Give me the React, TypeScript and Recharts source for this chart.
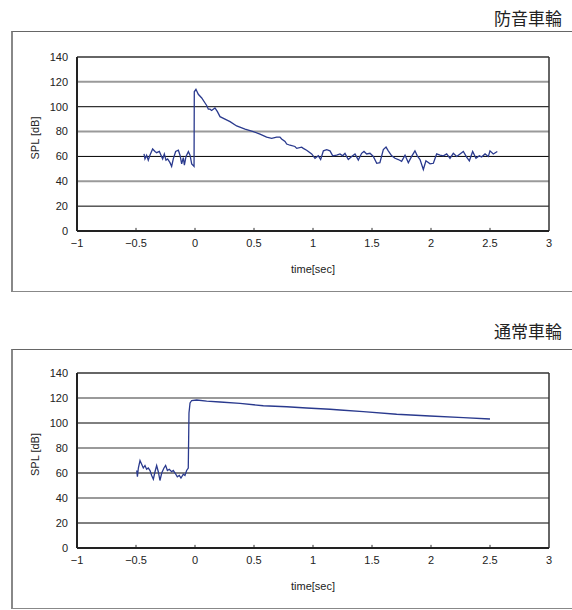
import React from "react";
import { LineChart, Line, XAxis, YAxis, ReferenceLine } from "recharts";

// 防音車輪 (sound-proof wheel)
const timeTop = [
  -0.432, -0.424, -0.41, -0.396, -0.382, -0.359, -0.339, -0.325, -0.302, -0.288,
  -0.274, -0.26, -0.246, -0.232, -0.212, -0.198, -0.184, -0.164, -0.141, -0.127,
  -0.113, -0.099, -0.09, -0.076, -0.056, -0.042, -0.028, -0.008, -0.006, 0.008,
  0.028, 0.057, 0.085, 0.099, 0.113, 0.127, 0.141, 0.169, 0.19, 0.212,
  0.254, 0.297, 0.353, 0.424, 0.494, 0.551, 0.607, 0.65, 0.692, 0.72,
  0.734, 0.763, 0.777, 0.805, 0.847, 0.862, 0.904, 0.918, 0.946, 0.989,
  1.017, 1.045, 1.065, 1.088, 1.116, 1.144, 1.167, 1.201, 1.229, 1.251,
  1.271, 1.299, 1.328, 1.356, 1.384, 1.412, 1.432, 1.455, 1.483, 1.511,
  1.54, 1.567, 1.596, 1.619, 1.638, 1.667, 1.695, 1.723, 1.751, 1.78,
  1.808, 1.836, 1.864, 1.884, 1.907, 1.935, 1.957, 1.992, 2.02, 2.048,
  2.076, 2.105, 2.133, 2.161, 2.189, 2.218, 2.246, 2.274, 2.302, 2.325,
  2.353, 2.381, 2.41, 2.429, 2.458, 2.486, 2.5, 2.528, 2.562,
];
const splTop = [
  62, 58, 61, 57, 61, 66, 64, 63, 64, 61,
  58, 62, 57, 58, 55, 52, 58, 64, 65, 61,
  54, 59, 53, 60, 64, 61, 54, 52, 112, 114,
  110, 107, 103, 101, 98, 98, 97, 99, 96, 92,
  90, 88, 84.5, 82, 80, 78, 75.5, 74.5, 75.5, 75.5,
  74, 72, 70, 69, 68, 66.5, 67.5, 66.5, 65, 62,
  58.5, 60.5, 57.5, 64.5, 65.5, 64.5, 60.5, 61, 62, 60.5,
  62.5, 57.5, 60, 62, 57, 62.5, 64, 62, 62.5, 60,
  54.5, 55, 65.5, 67.5, 64.5, 60.5, 58.5, 57.5, 56, 61,
  55, 60, 64.5, 60.5, 57.5, 49.5, 56.5, 54, 54.5, 62,
  61, 60.5, 62, 58.5, 62.5, 60, 62, 64, 59.5, 56.5,
  64, 58.5, 60.5, 59.5, 62, 60, 64.5, 62, 64,
];

// 通常車輪 (ordinary wheel)
const timeBottom = [
  -0.494, -0.488, -0.48, -0.466, -0.452, -0.438, -0.424, -0.41, -0.396, -0.381,
  -0.367, -0.353, -0.339, -0.325, -0.311, -0.297, -0.282, -0.263, -0.249, -0.234,
  -0.218, -0.198, -0.184, -0.169, -0.15, -0.133, -0.119, -0.099, -0.085, -0.071,
  -0.057, -0.051, -0.042, -0.028, 0.014, 0.099, 0.212, 0.381, 0.579, 0.777,
  0.946, 1.144, 1.229, 1.426, 1.709, 1.991, 2.274, 2.5,
];
const splBottom = [
  62, 57, 64, 70, 67, 64, 66, 63, 64, 62,
  58, 55, 61, 66, 61, 54, 60, 64, 66, 62,
  63, 61, 62, 60, 57, 58, 56, 59, 58, 62,
  64, 108, 116, 118, 118.4, 117.5, 116.8, 115.7, 113.8, 113,
  112, 111, 110.4, 109.1, 107, 105.6, 104.3, 103.2,
];

const xTicks = [-1, -0.5, 0, 0.5, 1, 1.5, 2, 2.5, 3];
const yTicks = [0, 20, 40, 60, 80, 100, 120, 140];

const LINE_COLOR = "#2a3a8e";
const TEXT_COLOR = "#222";
const FONT = "'Liberation Sans', Arial, sans-serif";

const fmt = (v: number) => String(v).replace("-", "\u2212");

// eslint-disable-next-line @typescript-eslint/no-explicit-any
function YTitle(props: any) {
  const vb = props.viewBox || { x: 0, y: 0, width: 0, height: 0 };
  const cx = 35;
  const cy = vb.y + vb.height / 2 - 6;
  return (
    <text
      x={cx}
      y={cy}
      transform={`rotate(-90, ${cx}, ${cy})`}
      textAnchor="middle"
      dominantBaseline="central"
      fontSize={11}
      fontFamily={FONT}
      fill={TEXT_COLOR}
    >
      SPL [dB]
    </text>
  );
}

interface PanelProps {
  title: string;
  times: number[];
  values: number[];
  top: number;
  height: number;
  titleTop: number;
  marginTop: number;
}

function Panel({ title, times, values, top, height, titleTop, marginTop }: PanelProps) {
  const data = times.map((t, i) => ({ t, spl: values[i] }));
  return (
    <>
      <div
        style={{
          position: "absolute",
          right: 10,
          top: titleTop,
          fontSize: 17,
          lineHeight: "17px",
          fontFamily: "'Noto Sans CJK JP', sans-serif",
          color: TEXT_COLOR,
        }}
      >
        {title}
      </div>
      <div
        style={{
          position: "absolute",
          left: 11,
          top,
          width: 620,
          height: height - 2,
          borderTop: "1px solid #666",
          borderBottom: "1px solid #888",
          borderLeft: "2px solid #888",
        }}
      />
      <div style={{ position: "absolute", left: 0, top }}>
        <LineChart
          width={572}
          height={height}
          data={data}
          margin={{ top: marginTop, right: 23, bottom: 16, left: 0 }}
        >
          {yTicks.slice(1, -1).map((y, i) => (
            <ReferenceLine
              key={`g-${y}`}
              y={y}
              stroke={i % 2 === 0 ? "#000" : "#9a9a9a"}
              strokeWidth={i % 2 === 0 ? 1 : 2}
            />
          ))}
          <ReferenceLine y={140} stroke="#333" strokeWidth={1.5} />
          <ReferenceLine x={3} stroke="#333" strokeWidth={1.5} />
          {xTicks.slice(1, -1).map((x) => (
            <ReferenceLine
              key={`t-${x}`}
              segment={[
                { x, y: 0 },
                { x, y: 2.5 },
              ]}
              stroke="#333"
            />
          ))}
          <XAxis
            type="number"
            dataKey="t"
            domain={[-1, 3]}
            ticks={xTicks}
            tickFormatter={fmt}
            allowDataOverflow
            height={45}
            tickLine={false}
            tickSize={6}
            tickMargin={2}
            axisLine={{ stroke: "#222", strokeWidth: 2 }}
            tick={{ fontSize: 11, fill: TEXT_COLOR, fontFamily: FONT }}
            label={{
              value: "time[sec]",
              position: "insideBottom",
              offset: 3,
              fontSize: 11,
              fill: TEXT_COLOR,
              fontFamily: FONT,
            }}
          />
          <YAxis
            type="number"
            domain={[0, 140]}
            ticks={yTicks}
            width={77}
            tickLine={false}
            tickSize={6}
            tickMargin={3}
            axisLine={{ stroke: "#222", strokeWidth: 2 }}
            tick={{ fontSize: 11, fill: TEXT_COLOR, fontFamily: FONT }}
            label={<YTitle />}
          />
          <Line
            type="linear"
            dataKey="spl"
            stroke={LINE_COLOR}
            strokeWidth={1.3}
            dot={false}
            isAnimationActive={false}
          />
        </LineChart>
      </div>
    </>
  );
}

export default function App() {
  return (
    <div
      style={{
        position: "fixed",
        left: 0,
        top: 0,
        width: 572,
        height: 610,
        overflow: "hidden",
        background: "#fff",
      }}
    >
      <Panel
        title="防音車輪"
        times={timeTop}
        values={splTop}
        top={31}
        height={261}
        titleTop={9}
        marginTop={26}
      />
      <Panel
        title="通常車輪"
        times={timeBottom}
        values={splBottom}
        top={349}
        height={260}
        titleTop={322}
        marginTop={24}
      />
    </div>
  );
}
